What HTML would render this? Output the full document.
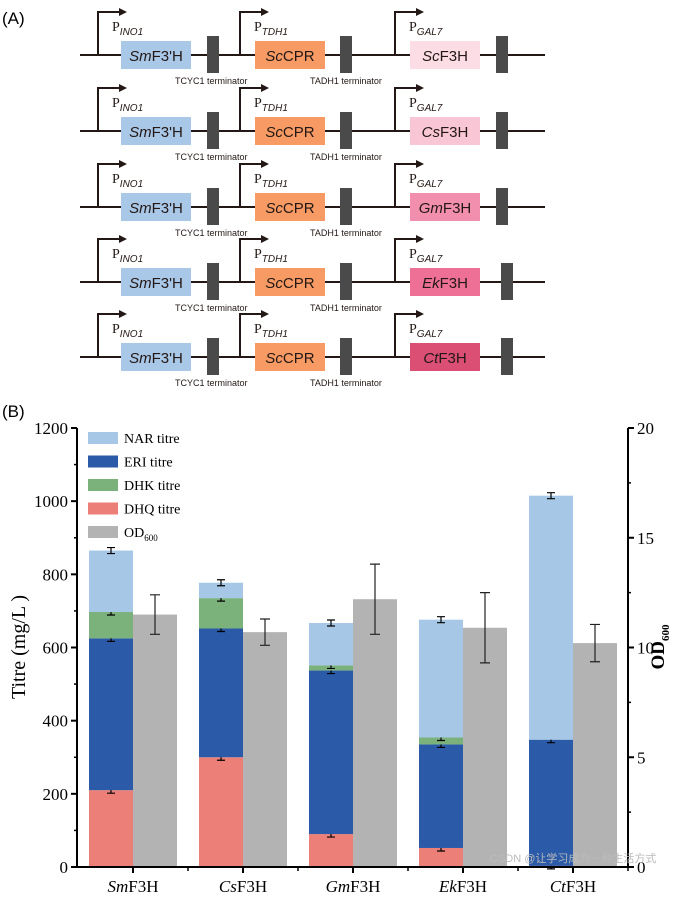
<!DOCTYPE html>
<html><head><meta charset="utf-8"><style>
body{margin:0;background:#fff;width:685px;height:898px;overflow:hidden;font-family:"Liberation Sans",sans-serif}
svg{display:block}
</style></head><body>
<svg id="fig" width="685" height="898">
<text x="2" y="24" font-size="17">(A)</text>
<g id="constructs"></g>
<text x="2" y="417" font-size="17">(B)</text>
<g id="chart"></g>
<text x="490" y="862" font-size="11" fill="#bbb" font-family="'Liberation Sans','Noto Sans CJK SC',sans-serif">CSDN @让学习成为一种生活方式</text>
</svg>
<script>
const NS="http://www.w3.org/2000/svg";
function mk(p,t,a,txt){const e=document.createElementNS(NS,t);for(const k in a)e.setAttribute(k,a[k]);if(txt!==undefined)e.textContent=txt;p.appendChild(e);return e;}
// Panel A
const rowsY=[55,131,207,282,357];
const f3hNames=["Sc","Cs","Gm","Ek","Ct"];
const f3hColors=["#fcdde6","#f9c6d6","#f28fae","#ee7097","#db4f74"];
const cg=document.getElementById('constructs');
rowsY.forEach((y,i)=>{
  const g=mk(cg,'g',{});
  
  
  mk(g,'line',{x1:80,y1:y,x2:545,y2:y,stroke:'#231815','stroke-width':2});
  const term3=i>=3?507:502;
  [[98,'INO1'],[240,'TDH1'],[395,'GAL7']].forEach(p=>{
    mk(g,'path',{d:`M${p[0]} ${y} V${y-43} H${p[0]+22}`,fill:'none',stroke:'#231815','stroke-width':2});
    mk(g,'path',{d:`M${p[0]+29} ${y-43} l-8 -4 v8 z`,fill:'#231815'});
    const t=mk(g,'text',{x:p[0]+14,y:y-24,'font-size':14,'font-family':'Liberation Serif',fill:'#231815'},'P');
    mk(t,'tspan',{'font-size':10,'font-style':'italic','font-family':'Liberation Sans',dy:4},p[1]);
  });
  const boxes=[[121,'#a9c7e6','Sm',"F3'H"],[255,'#f79a63','Sc','CPR'],[410,f3hColors[i],f3hNames[i],'F3H']];
  boxes.forEach(b=>{
    mk(g,'rect',{x:b[0],y:y-14,width:70,height:28,fill:b[1]});
    const t=mk(g,'text',{x:b[0]+35,y:y+6,'font-size':15,'text-anchor':'middle',fill:'#231815'});
    mk(t,'tspan',{'font-style':'italic'},b[2]);mk(t,'tspan',{},b[3]);
  });
  [213,346,term3].forEach(x=>mk(g,'rect',{x:x-6,y:y-19,width:12,height:37,fill:'#4a4a4a'}));
  mk(g,'text',{x:175,y:y+29,'font-size':9,fill:'#231815'},'TCYC1 terminator');
  mk(g,'text',{x:310,y:y+29,'font-size':9,fill:'#231815'},'TADH1 terminator');
});
// Panel B chart data
const categories=["Sm","Cs","Gm","Ek","Ct"];
const dhq=[210,300,90,52,3];
const eri=[415,352,447,283,345];
const dhk=[72,83,14,19,0];
const nar=[168,42,116,322,667];
const od=[11.5,10.7,12.2,10.9,10.2];
const odErr=[0.9,0.6,1.6,1.6,0.85];
const leftTicks=[0,200,400,600,800,1000,1200];
const rightTicks=[0,5,10,15,20];
const X0=77,X1=628,Y0=867,Y1=428;
const yL=v=>Y0-(v/1200)*(Y0-Y1);
const yR=v=>Y0-(v/20)*(Y0-Y1);
const xc=i=>133+i*110;
const BW=44;
const ch=document.getElementById('chart');
const colors={dhq:'#ec7f77',eri:'#2a5aa8',dhk:'#7bb27b',nar:'#a6c8e6',od:'#b3b3b3'};
categories.forEach((c,i)=>{
  let base=0;
  [['dhq',dhq],['eri',eri],['dhk',dhk],['nar',nar]].forEach(s=>{
    const v=s[1][i];if(v<=0)return;
    const r=mk(ch,'rect',{x:xc(i)-BW,y:yL(base+v),width:BW,height:yL(base)-yL(base+v),fill:colors[s[0]]});
    
    
    base+=v;
    const e=3;const ex=xc(i)-BW/2;
    mk(ch,'path',{d:`M${ex-4} ${yL(base)-e}H${ex+4}M${ex} ${yL(base)-e}V${yL(base)+e}M${ex-4} ${yL(base)+e}H${ex+4}`,stroke:'#000','stroke-width':1.2,fill:'none'});
  });
  const r=mk(ch,'rect',{x:xc(i),y:yR(od[i]),width:BW,height:Y0-yR(od[i]),fill:colors.od});
  
  
  const ex=xc(i)+BW/2,a=yR(od[i]+odErr[i]),b=yR(od[i]-odErr[i]);
  mk(ch,'path',{d:`M${ex-5} ${a}H${ex+5}M${ex} ${a}V${b}M${ex-5} ${b}H${ex+5}`,stroke:'#222','stroke-width':1.2,fill:'none'});
  const t=mk(ch,'text',{x:xc(i),y:892,'font-size':17,'text-anchor':'middle','font-family':'Liberation Serif'});
  
  
  mk(t,'tspan',{'font-style':'italic'},c);mk(t,'tspan',{},'F3H');
});
// axes
mk(ch,'line',{x1:X0,y1:Y1,x2:X0,y2:Y0,stroke:'#000','stroke-width':2});
mk(ch,'line',{x1:X1,y1:Y1,x2:X1,y2:Y0,stroke:'#000','stroke-width':2});
mk(ch,'line',{x1:X0,y1:Y0,x2:X1,y2:Y0,stroke:'#000','stroke-width':2});
leftTicks.forEach(v=>{
  mk(ch,'line',{x1:X0-6,y1:yL(v),x2:X0,y2:yL(v),stroke:'#000','stroke-width':2});
  if(v<1200)mk(ch,'line',{x1:X0-3,y1:yL(v+100),x2:X0,y2:yL(v+100),stroke:'#000','stroke-width':1.5});
  mk(ch,'text',{x:X0-9,y:yL(v)+6,'font-size':17,'text-anchor':'end','font-family':'Liberation Serif'},v);
});
rightTicks.forEach(v=>{
  mk(ch,'line',{x1:X1,y1:yR(v),x2:X1+6,y2:yR(v),stroke:'#000','stroke-width':2});
  if(v<20)mk(ch,'line',{x1:X1,y1:yR(v+2.5),x2:X1+3,y2:yR(v+2.5),stroke:'#000','stroke-width':1.5});
  mk(ch,'text',{x:X1+9,y:yR(v)+6,'font-size':17,'font-family':'Liberation Serif'},v);
});
categories.forEach((c,i)=>{
  mk(ch,'line',{x1:xc(i),y1:Y0,x2:xc(i),y2:Y0+6,stroke:'#000','stroke-width':2});
  mk(ch,'line',{x1:xc(i)+55,y1:Y0,x2:xc(i)+55,y2:Y0+4,stroke:'#000','stroke-width':1.5});
});
const yt=mk(ch,'text',{x:0,y:0,'font-size':20,'text-anchor':'middle','font-family':'Liberation Serif',transform:'translate(25,647) rotate(-90)'},'Titre (mg/L )');

const yr=mk(ch,'text',{x:0,y:0,'font-size':19,'text-anchor':'middle','font-family':'Liberation Serif','font-weight':'bold',transform:'translate(664,647) rotate(-90)'},'OD');
mk(yr,'tspan',{'font-size':11,dy:5},'600');

// legend
const leg=[['nar','NAR titre'],['eri','ERI   titre'],['dhk','DHK titre'],['dhq','DHQ titre'],['od','OD']];
leg.forEach((l,k)=>{
  const y=438+k*23.5;
  const g=mk(ch,'g',{});
  
  
  mk(g,'rect',{x:88,y:y-6,width:30,height:12,fill:colors[l[0]]});
  const t=mk(g,'text',{x:124,y:y+5,'font-size':14,'font-family':'Liberation Serif','xml:space':'preserve'},l[1]);
  if(l[0]==='od')mk(t,'tspan',{'font-size':9,dy:4},'600');
});
</script>
</body></html>
